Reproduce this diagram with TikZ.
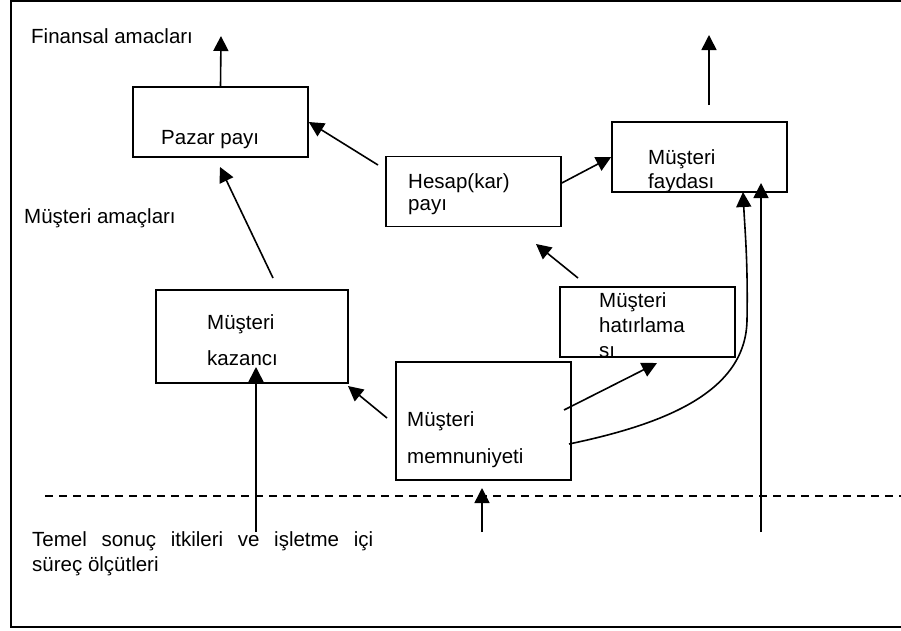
\documentclass[tikz,border=0pt]{standalone}
\usepackage{fontspec}
\setmainfont{Liberation Sans}
\usetikzlibrary{arrows.meta}
\begin{document}
\begin{tikzpicture}[x=1pt,y=-1pt,
  every node/.style={font=\fontsize{20.5}{22}\selectfont, inner sep=0pt},
  box/.style={draw, line width=1.6pt, rectangle, minimum width=175pt, minimum height=70pt},
  lbl/.style={anchor=base west},
  conn/.style={line width=1.6pt, -{Triangle[length=15pt,width=15pt]}},
  frame/.style={line width=2.4pt},
  divider/.style={line width=1.4pt, dash pattern=on 8pt off 6pt}]
\useasboundingbox (0,0) rectangle (901,630);

% outer frame (left, top and bottom edges)
\draw[frame] (901,1) -- (11,1) -- (11,627) -- (901,627);

% boxes
\node[box] (pazar) at (220.5,122) {};
\node[box] (hesap) at (473.5,191.5) {};
\node[box] (fayda) at (699.5,157) {};
\node[box, minimum width=192pt, minimum height=93pt] (kazanc) at (252,336.5) {};
\node[box, minimum height=118pt] (memnun) at (483.5,421) {};

% box with its last line cut by the lower edge
\begin{scope}
  \clip (560,287) rectangle (735,357);
  \node[lbl] (hatirc) at (599,357.5) {sı};
\end{scope}
\node[box] (hatir) at (647.5,322) {};

% box texts
\node[lbl] (tpazar) at (161,144) {Pazar payı};
\node[lbl] (thesapa) at (408,188) {Hesap(kar)};
\node[lbl] (thesapb) at (408,210) {payı};
\node[lbl] (tfaydaa) at (648,164) {Müşteri};
\node[lbl] (tfaydab) at (648,188) {faydası};
\node[lbl] (thatira) at (599,307) {Müşteri};
\node[lbl] (thatirb) at (599,332) {hatırlama};
\node[lbl] (tkazanca) at (207,329) {Müşteri};
\node[lbl] (tkazancb) at (207,365) {kazancı};
\node[lbl] (tmemnuna) at (407,426) {Müşteri};
\node[lbl] (tmemnunb) at (407,463) {memnuniyeti};

% level labels
\node[lbl] (fin) at (31,43) {Finansal amacları};
\node[lbl] (mus) at (24,223) {Müşteri amaçları};
\node[lbl] (temela) at (32,546) {\makebox[341pt][s]{Temel\hfill sonuç\hfill itkileri\hfill ve\hfill işletme\hfill içi}};
\node[lbl] (temelb) at (32,571) {süreç ölçütleri};

% connector end points
\coordinate (pazarUp) at (221,36);
\coordinate (hesapOut) at (378,165);
\coordinate (kazancOut) at (273,278);
\coordinate (pazarIn) at (220,167);
\coordinate (faydaUpS) at (709,105);
\coordinate (faydaUpT) at (709,35);
\coordinate (hatirOut) at (578,278);
\coordinate (hesapIn) at (536,244);
\coordinate (memnunOutA) at (387,418);
\coordinate (kazancIn) at (348,386);
\coordinate (memnunOutB) at (564,410);
\coordinate (hatirIn) at (657,363);
\coordinate (memnunOutC) at (569,444);
\coordinate (faydaInA) at (743,192);
\coordinate (baseC) at (761,532);
\coordinate (faydaInB) at (761,183);
\coordinate (baseB) at (482,532);
\coordinate (memnunIn) at (482,488);
\coordinate (baseA) at (256,532);
\coordinate (kazancInB) at (256,367);
\coordinate (divL) at (45,496);
\coordinate (divR) at (901,496);

% dashed divider
\draw[divider] (divL) -- (divR);

% connectors
\draw[conn] (pazar.north) -- (pazarUp);
\draw[conn] (hesapOut) -- (pazar.east);
\draw[conn] (kazancOut) -- (pazarIn);
\draw[conn] ([yshift=8.5pt]hesap.east) -- (fayda.west);
\draw[conn] (faydaUpS) -- (faydaUpT);
\draw[conn] (hatirOut) -- (hesapIn);
\draw[conn] (memnunOutA) -- (kazancIn);
\draw[conn] (memnunOutB) -- (hatirIn);
\draw[conn] (memnunOutC) .. controls (665,424) and (746,392) .. (747,320)
  .. controls (748,262) and (745,232) .. (faydaInA);
\draw[conn] (baseC) -- (faydaInB);
\draw[conn] (baseB) -- (memnunIn);
\draw[conn] (baseA) -- (kazancInB);
\end{tikzpicture}
\end{document}
